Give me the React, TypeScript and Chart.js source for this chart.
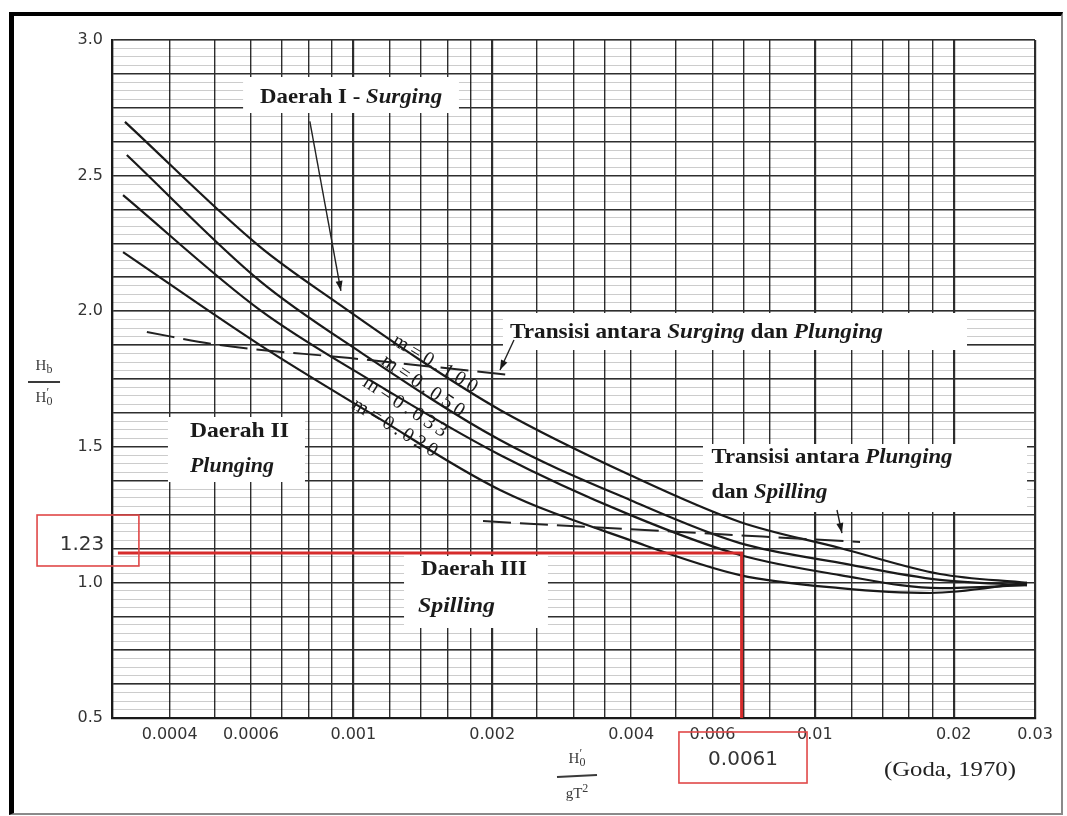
import React, { useEffect, useRef } from "react";
import { Chart, registerables } from "chart.js";

Chart.register(...registerables);

// ---------------- axis ticks ----------------
const xTickValues = [0.0004, 0.0006, 0.001, 0.002, 0.004, 0.006, 0.01, 0.02, 0.03];
const xTickLabels = ["0.0004", "0.0006", "0.001", "0.002", "0.004", "0.006", "0.01", "0.02", "0.03"];
const xGridValues = [
  0.0003, 0.0004, 0.0005, 0.0006, 0.0007, 0.0008, 0.0009, 0.001, 0.0012, 0.0014, 0.0016, 0.0018,
  0.002, 0.0025, 0.003, 0.0035, 0.004, 0.005, 0.006, 0.007, 0.008, 0.01, 0.012, 0.014, 0.016,
  0.018, 0.02, 0.03,
];
const xGridHeavy = [0.0003, 0.001, 0.002, 0.01, 0.02, 0.03];
const yTickValues = [0.5, 1.0, 1.5, 2.0, 2.5, 3.0];
const yTickLabels = ["0.5", "1.0", "1.5", "2.0", "2.5", "3.0"];

// ---------------- breaker index curves (x = H'0/gT², y = Hb/H'0) ----------------
const curveNames = ["m=0.100", "m=0.050", "m=0.033", "m=0.020"];
const m100X = [0.00032, 0.000628, 0.000936, 0.001395, 0.002079, 0.003977, 0.006886, 0.01134, 0.01867, 0.02883];
const m100Y = [2.698, 2.237, 2.023, 1.82, 1.636, 1.396, 1.223, 1.127, 1.031, 0.998];
const m050X = [0.000323, 0.000628, 0.001034, 0.002079, 0.003977, 0.006886, 0.01134, 0.01867, 0.02883];
const m050Y = [2.576, 2.111, 1.85, 1.525, 1.304, 1.145, 1.072, 1.009, 0.99];
const m033X = [0.000317, 0.000628, 0.001087, 0.002079, 0.003977, 0.006886, 0.01134, 0.01867, 0.02883];
const m033Y = [2.428, 2.004, 1.746, 1.47, 1.249, 1.101, 1.027, 0.979, 0.99];
const m020X = [0.000317, 0.000628, 0.001087, 0.002079, 0.003977, 0.006886, 0.01134, 0.01777, 0.02883];
const m020Y = [2.218, 1.875, 1.625, 1.341, 1.156, 1.027, 0.979, 0.961, 0.998];

// ---------------- transition (dashed) lines ----------------
const transSurgPlungX = [0.000357, 0.000514, 0.000984, 0.002185];
const transSurgPlungY = [1.923, 1.875, 1.827, 1.765];
const transPlungSpillX = [0.00191, 0.0051, 0.01253];
const transPlungSpillY = [1.226, 1.186, 1.149];

// ---------------- pointer arrows ----------------
const arrowSurgX = [0.000805, 0.00094];
const arrowSurgY = [2.7, 2.075];
const arrowSPX = [0.002229, 0.002079];
const arrowSPY = [1.894, 1.783];
const arrowPSX = [0.01117, 0.01145];
const arrowPSY = [1.267, 1.182];

// ---------------- red reading lines ----------------
const readLineX = [0.000309, 0.00694, 0.00694];
const readLineY = [1.108, 1.108, 0.5];
const readLabelY = "1.23";
const readLabelX = "0.0061";

// ---------------- annotation layout (data coordinates) ----------------
const whiteBoxes = [
  [0.000577, 0.001694, 2.8636, 2.7308],
  [0.00211, 0.02137, 1.9934, 1.8569],
  [0.0003966, 0.0007857, 1.6099, 1.3702],
  [0.001288, 0.002641, 1.0973, 0.8319],
  [0.005724, 0.02883, 1.5103, 1.2596],
];
type Run = [string, boolean];
const regionTexts: { runs: Run[]; x: number; y: number; w: number }[] = [
  { runs: [["Daerah I - ", false], ["Surging", true]], x: 0.000628, y: 2.786, w: 182 },
  { runs: [["Transisi antara ", false], ["Surging", true], [" dan ", false], ["Plunging", true]], x: 0.002185, y: 1.92, w: 373 },
  { runs: [["Daerah II", false]], x: 0.0004427, y: 1.5546, w: 99 },
  { runs: [["Plunging", true]], x: 0.0004427, y: 1.4255, w: 84 },
  { runs: [["Daerah III", false]], x: 0.001402, y: 1.0457, w: 106 },
  { runs: [["Spilling", true]], x: 0.001381, y: 0.9093, w: 77 },
  { runs: [["Transisi antara ", false], ["Plunging", true]], x: 0.005972, y: 1.4587, w: 241 },
  { runs: [["dan ", false], ["Spilling", true]], x: 0.005972, y: 1.3296, w: 116 },
];
const curveLabelX = [0.001503, 0.001416, 0.001294, 0.001231];
const curveLabelY = [1.805, 1.724, 1.647, 1.569];
const curveLabelAngle = [31, 34, 33, 31];

const SERIF = '"Liberation Serif", "Times New Roman", serif';
const SANS = '"DejaVu Sans", sans-serif';

function drawRuns(ctx: CanvasRenderingContext2D, runs: Run[], x: number, y: number, size: number, bold: boolean, width: number) {
  ctx.save();
  ctx.textBaseline = "middle";
  ctx.textAlign = "left";
  ctx.fillStyle = "#1a1a1a";
  const fonts = runs.map(([, it]) => `${it ? "italic " : ""}${bold ? "bold " : ""}${size}px ${SERIF}`);
  let total = 0;
  runs.forEach(([t], i) => {
    ctx.font = fonts[i];
    total += ctx.measureText(t).width;
  });
  const sx = width ? width / total : 1;
  ctx.translate(x, y);
  ctx.scale(sx, 1);
  let cx = 0;
  runs.forEach(([t], i) => {
    ctx.font = fonts[i];
    ctx.fillText(t, cx, 0);
    cx += ctx.measureText(t).width;
  });
  ctx.restore();
}

function drawSpaced(ctx: CanvasRenderingContext2D, text: string, cx: number, cy: number, angle: number, size: number, length: number) {
  ctx.save();
  ctx.font = `${size}px ${SERIF}`;
  ctx.fillStyle = "#1a1a1a";
  ctx.textBaseline = "middle";
  ctx.textAlign = "left";
  const chars = [...text];
  const ws = chars.map((c) => ctx.measureText(c).width);
  const natural = ws.reduce((a, b) => a + b, 0);
  const gap = (length - natural) / (chars.length - 1);
  ctx.translate(cx, cy);
  ctx.rotate((angle * Math.PI) / 180);
  let px = -length / 2;
  chars.forEach((c, i) => {
    ctx.fillText(c, px, 0);
    px += ws[i] + gap;
  });
  ctx.restore();
}

type Piece = { t: string; dy: number; s: number; back?: boolean };
function drawPieces(ctx: CanvasRenderingContext2D, pieces: Piece[], cx: number, cy: number, size: number) {
  ctx.save();
  ctx.fillStyle = "#3a3a3a";
  ctx.textBaseline = "middle";
  ctx.textAlign = "left";
  let total = 0;
  const ws = pieces.map((p) => {
    ctx.font = `${size * p.s}px ${SERIF}`;
    const w = ctx.measureText(p.t).width;
    if (!p.back) total += w;
    return w;
  });
  let x = cx - total / 2;
  let lastX = x;
  pieces.forEach((p, i) => {
    ctx.font = `${size * p.s}px ${SERIF}`;
    const px = p.back ? lastX : x;
    ctx.fillText(p.t, px, cy + p.dy);
    if (!p.back) {
      lastX = x;
      x += ws[i];
    }
  });
  ctx.restore();
}

export default function App() {
  const ref = useRef<HTMLCanvasElement>(null);

  useEffect(() => {
    const canvas = ref.current;
    if (!canvas) return;

    const pts = (xs: number[], ys: number[]) => xs.map((x, i) => ({ x, y: ys[i] }));
    const curve = (label: string, xs: number[], ys: number[]) => ({
      label,
      data: pts(xs, ys),
      showLine: true,
      pointRadius: 0,
      borderColor: "#1a1a1a",
      borderWidth: 2.2,
      cubicInterpolationMode: "monotone" as const,
      fill: false,
    });
    const plain = (label: string, xs: number[], ys: number[], extra: any) => ({
      label,
      data: pts(xs, ys),
      showLine: true,
      pointRadius: 0,
      fill: false,
      borderColor: "#222",
      borderWidth: 1.6,
      ...extra,
    });

    const arrows = [
      [arrowSurgX, arrowSurgY],
      [arrowSPX, arrowSPY],
      [arrowPSX, arrowPSY],
    ];

    const annot = {
      id: "annot",
      beforeDatasetsDraw(chart: any) {
        const { ctx, scales } = chart;
        const sx = scales.x, sy = scales.y;
        ctx.save();
        ctx.fillStyle = "#ffffff";
        whiteBoxes.forEach(([x1, x2, y1, y2]) => {
          const a = sx.getPixelForValue(x1), b = sx.getPixelForValue(x2);
          const c = sy.getPixelForValue(y1), d = sy.getPixelForValue(y2);
          ctx.fillRect(a, c, b - a, d - c);
        });
        ctx.restore();
      },
      afterDatasetsDraw(chart: any) {
        const { ctx, scales } = chart;
        const sx = scales.x, sy = scales.y;
        regionTexts.forEach((r) => {
          drawRuns(ctx, r.runs, sx.getPixelForValue(r.x), sy.getPixelForValue(r.y), 21, true, r.w);
        });
        curveNames.forEach((n, i) => {
          drawSpaced(ctx, n, sx.getPixelForValue(curveLabelX[i]), sy.getPixelForValue(curveLabelY[i]), curveLabelAngle[i], 20, 96);
        });
        // arrow heads
        ctx.save();
        ctx.fillStyle = "#1a1a1a";
        arrows.forEach(([xs, ys]) => {
          const x0 = sx.getPixelForValue(xs[0]), y0 = sy.getPixelForValue(ys[0]);
          const x1 = sx.getPixelForValue(xs[1]), y1 = sy.getPixelForValue(ys[1]);
          const ang = Math.atan2(y1 - y0, x1 - x0);
          const L = 10, W = 3.5;
          ctx.beginPath();
          ctx.moveTo(x1, y1);
          ctx.lineTo(x1 - L * Math.cos(ang) + W * Math.sin(ang), y1 - L * Math.sin(ang) - W * Math.cos(ang));
          ctx.lineTo(x1 - L * Math.cos(ang) - W * Math.sin(ang), y1 - L * Math.sin(ang) + W * Math.cos(ang));
          ctx.closePath();
          ctx.fill();
        });
        ctx.restore();
      },
      afterDraw(chart: any) {
        const { ctx, scales } = chart;
        const sx = scales.x, sy = scales.y;
        const P = (x: number, y: number) => [sx.getPixelForValue(x), sy.getPixelForValue(y)];
        // red reading boxes
        ctx.save();
        ctx.strokeStyle = "#e04848";
        ctx.lineWidth = 1.6;
        const boxes: [number, number, number, number][] = [
          [0.0002064, 0.0003431, 1.2485, 1.0605],
          [0.005077, 0.009619, 0.4484, 0.2603],
        ];
        boxes.forEach(([x1, x2, y1, y2]) => {
          const [a, c] = P(x1, y1);
          const [b, d] = P(x2, y2);
          ctx.strokeRect(a, c, b - a, d - c);
        });
        ctx.fillStyle = "#333";
        ctx.font = `20px ${SANS}`;
        ctx.textBaseline = "middle";
        ctx.textAlign = "center";
        let [tx, ty] = P(0.0002583, 1.1379);
        ctx.fillText(readLabelY, tx, ty);
        [tx, ty] = P(0.006991, 0.3451);
        ctx.fillText(readLabelX, tx, ty);
        ctx.restore();

        // source
        const [gx, gy] = P(0.01412, 0.3083);
        ctx.save();
        ctx.font = `22px ${SERIF}`;
        ctx.fillStyle = "#222";
        ctx.textBaseline = "middle";
        const gw = ctx.measureText("(Goda, 1970)").width;
        ctx.translate(gx, gy);
        ctx.scale(132 / gw, 1);
        ctx.fillText("(Goda, 1970)", 0, 0);
        ctx.restore();

        // y axis title  Hb / H'0
        const [yx, yNum] = P(0.0002137, 1.798);
        const [, yBar] = P(0.0002137, 1.7389);
        const [, yDen] = P(0.0002137, 1.68);
        drawPieces(ctx, [{ t: "H", dy: 0, s: 1 }, { t: "b", dy: 4, s: 0.8 }], yx, yNum, 15);
        drawPieces(ctx, [{ t: "H", dy: 0, s: 1 }, { t: "0", dy: 4, s: 0.8 }, { t: "′", dy: -5, s: 0.8, back: true }], yx, yDen, 15);
        ctx.save();
        ctx.strokeStyle = "#3a3a3a";
        ctx.lineWidth = 2;
        ctx.beginPath();
        ctx.moveTo(yx - 16, yBar);
        ctx.lineTo(yx + 16, yBar);
        ctx.stroke();
        ctx.restore();

        // x axis title  H'0 / gT²
        const [xx, xNum] = P(0.003053, 0.3488);
        const [, xBar] = P(0.003053, 0.2861);
        const [, xDen] = P(0.003053, 0.2198);
        drawPieces(ctx, [{ t: "H", dy: 0, s: 1 }, { t: "0", dy: 4, s: 0.8 }, { t: "′", dy: -5, s: 0.8, back: true }], xx, xNum, 15);
        drawPieces(ctx, [{ t: "gT", dy: 0, s: 1 }, { t: "2", dy: -5, s: 0.8 }], xx, xDen, 15);
        ctx.save();
        ctx.strokeStyle = "#3a3a3a";
        ctx.lineWidth = 2;
        ctx.beginPath();
        ctx.moveTo(xx - 20, xBar + 1);
        ctx.lineTo(xx + 20, xBar - 1);
        ctx.stroke();
        ctx.restore();
      },
    };

    const chart = new Chart(canvas, {
      type: "scatter",
      data: {
        datasets: [
          plain("read", readLineX, readLineY, { borderColor: "#d62b2b", borderWidth: 3 }),
          plain("arrow1", arrowSurgX, arrowSurgY, { borderWidth: 1.4 }),
          plain("arrow2", arrowSPX, arrowSPY, { borderWidth: 1.4 }),
          plain("arrow3", arrowPSX, arrowPSY, { borderWidth: 1.4 }),
          plain("transSP", transSurgPlungX, transSurgPlungY, { borderDash: [28, 9], borderWidth: 2, cubicInterpolationMode: "monotone" }),
          plain("transPS", transPlungSpillX, transPlungSpillY, { borderDash: [28, 9], borderWidth: 2, cubicInterpolationMode: "monotone" }),
          curve(curveNames[0], m100X, m100Y),
          curve(curveNames[1], m050X, m050Y),
          curve(curveNames[2], m033X, m033Y),
          curve(curveNames[3], m020X, m020Y),
        ],
      },
      options: {
        responsive: false,
        animation: false,
        devicePixelRatio: 1,
        layout: { padding: { left: 0, right: 32, top: 40, bottom: 0 } },
        plugins: { legend: { display: false }, tooltip: { enabled: false } },
        scales: {
          x: {
            type: "logarithmic",
            position: "bottom",
            min: 0.0003,
            max: 0.03,
            afterBuildTicks: (s: any) => {
              s.ticks = xGridValues.map((v) => ({ value: v }));
            },
            afterFit: (s: any) => {
              s.height = 98;
            },
            ticks: {
              autoSkip: false,
              maxRotation: 0,
              minRotation: 0,
              padding: 7,
              color: "#333",
              font: { family: SANS, size: 16 },
              callback: (v: any) => {
                const i = xTickValues.indexOf(Number(v));
                return i >= 0 ? xTickLabels[i] : "";
              },
            },
            grid: {
              drawTicks: false,
              color: "#2e2e2e",
              lineWidth: (c: any) => (c.tick && xGridHeavy.includes(c.tick.value) ? 2.2 : 1.4),
            },
            border: { display: true, color: "#1a1a1a", width: 2.2 },
          },
          y2: {
            type: "linear",
            position: "left",
            min: 0.5,
            max: 3.0,
            afterFit: (s: any) => {
              s.width = 0;
            },
            ticks: { display: false, stepSize: 0.03125, maxTicksLimit: 200, font: { size: 4 } },
            grid: { drawTicks: false, color: "rgba(0,0,0,0.2)", lineWidth: 1, z: -1 },
            border: { display: false },
          },
          y: {
            type: "linear",
            position: "left",
            min: 0.5,
            max: 3.0,
            afterFit: (s: any) => {
              s.width = 112;
            },
            ticks: {
              stepSize: 0.125,
              maxTicksLimit: 100,
              autoSkip: false,
              padding: 9,
              color: "#333",
              font: { family: SANS, size: 16 },
              callback: (v: any) => {
                const i = yTickValues.findIndex((t) => Math.abs(t - Number(v)) < 1e-6);
                return i >= 0 ? yTickLabels[i] : "";
              },
            },
            grid: { drawTicks: false, color: "#2e2e2e", lineWidth: 1.6 },
            border: { display: true, color: "#1a1a1a", width: 2.2 },
          },
        },
      },
      plugins: [annot],
    } as any);

    return () => chart.destroy();
  }, []);

  return (
    <div style={{ position: "absolute", left: 0, top: 0, width: 1067, height: 816, background: "#fff" }}>
      <canvas ref={ref} width={1067} height={816} style={{ display: "block", width: 1067, height: 816 }} />
      <div
        style={{
          position: "absolute",
          left: 9,
          top: 12,
          width: 1054,
          height: 803,
          boxSizing: "border-box",
          borderTop: "4px solid #000",
          borderLeft: "5px solid #000",
          borderRight: "2px solid #8a8a8a",
          borderBottom: "2px solid #8a8a8a",
          pointerEvents: "none",
        }}
      />
    </div>
  );
}
